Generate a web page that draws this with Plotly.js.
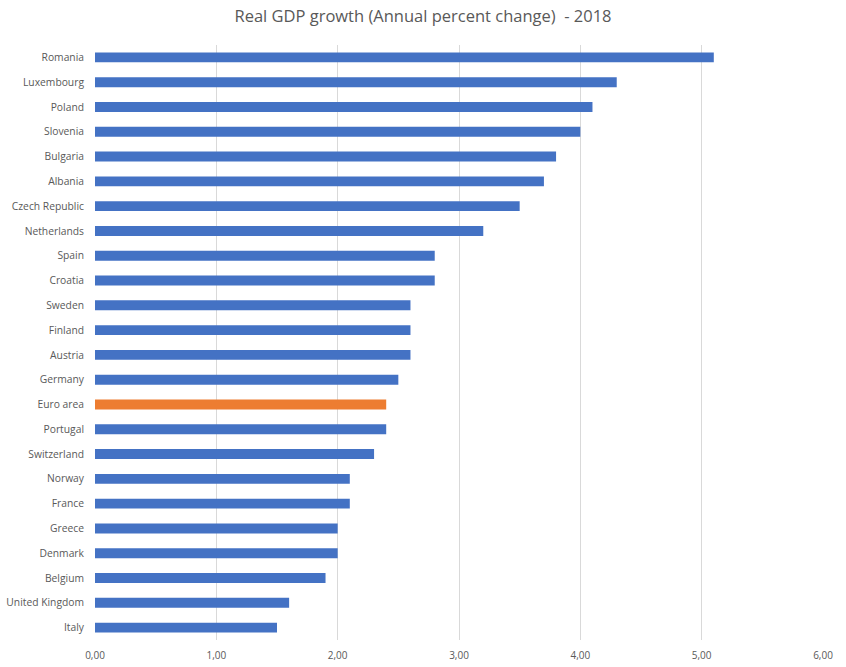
<!DOCTYPE html>
<html>
<head>
<meta charset="utf-8">
<script src="https://cdn.plot.ly/plotly-3.0.1.min.js"></script>
<style>
  body { margin: 0; background: #fff; }
  #chart { width: 846px; height: 667px; }
</style>
</head>
<body>
<div id="chart"></div>
<script>
var countries = ["Romania", "Luxembourg", "Poland", "Slovenia", "Bulgaria", "Albania",
    "Czech Republic", "Netherlands", "Spain", "Croatia", "Sweden", "Finland", "Austria",
    "Germany", "Euro area", "Portugal", "Switzerland", "Norway", "France", "Greece",
    "Denmark", "Belgium", "United Kingdom", "Italy"];
var growth = [5.1, 4.3, 4.1, 4.0, 3.8, 3.7, 3.5, 3.2, 2.8, 2.8, 2.6, 2.6, 2.6,
    2.5, 2.4, 2.4, 2.3, 2.1, 2.1, 2.0, 2.0, 1.9, 1.6, 1.5];
var xTicks = [0, 1, 2, 3, 4, 5, 6];

var colors = [];
for (var i in countries) {
    if (countries[i] == "Euro area") {
        colors.push('#ED7D31');
    } else {
        colors.push('#4472C4');
    }
};

var trace1 = {
    x: growth,
    y: countries,
    type: "bar",
    orientation: "h",
    marker: {color: colors},
    hoverinfo: "x+y"
};

var layout = {
    width: 846,
    height: 667,
    separators: ',.',
    margin: {l: 95, r: 23, t: 45, b: 27},
    paper_bgcolor: '#fff',
    plot_bgcolor: '#fff',
    font: {family: 'Open Sans, sans-serif', size: 10, color: '#595959'},
    title: {
        text: 'Real GDP growth (Annual percent change)  - 2018',
        font: {family: 'Open Sans, sans-serif', size: 16.5, color: '#595959'},
        x: 0.5, xanchor: 'center',
        y: 0.985, yanchor: 'top'
    },
    bargap: 0.6,
    showlegend: false,
    xaxis: {
        range: [0, 6],
        tickvals: xTicks,
        tickformat: '.2f',
        showgrid: true,
        gridcolor: '#D9D9D9',
        zeroline: false,
        showline: false,
        ticks: '',
        ticklabelstandoff: 8,
        tickfont: {size: 10, color: '#595959'}
    },
    yaxis: {
        autorange: 'reversed',
        showgrid: false,
        showline: false,
        zeroline: false,
        ticks: '',
        ticklabelstandoff: 10,
        tickfont: {size: 10.3, color: '#595959'}
    }
};

Plotly.newPlot("chart", [trace1], layout, {displayModeBar: false});
</script>
</body>
</html>
